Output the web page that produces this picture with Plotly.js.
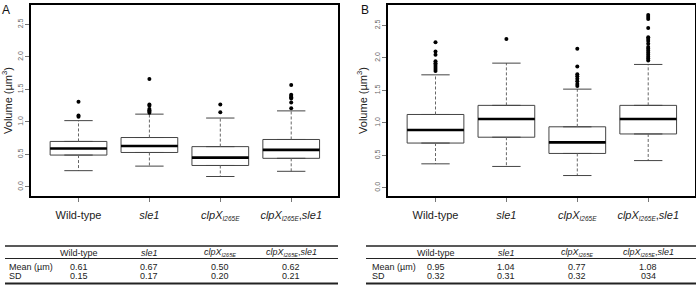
<!DOCTYPE html>
<html><head><meta charset="utf-8">
<script src="https://cdn.plot.ly/plotly-3.0.1.min.js"></script>
<style>html,body{margin:0;padding:0;background:#fff}#chart{width:696px;height:285px}</style>
</head><body><div id="chart"></div>
<script>
// ---------- data ----------
const categories = ["Wild-type", "sle1", "clpX_I265E", "clpX_I265E,sle1"];
const tickLabels = ["Wild-type", "<i>sle1</i>",
  "<i>clpX</i><sub><span style='font-size:6.5px'><i>I265E</i></span></sub>",
  "<i>clpX</i><sub><span style='font-size:6.5px'><i>I265E</i></span></sub>,<i>sle1</i>"];
const headerLabels = ["Wild-type", "<i>sle1</i>",
  "<i>clpX</i><sub><span style='font-size:5.5px'><i>I265E</i></span></sub>",
  "<i>clpX</i><sub><span style='font-size:5.5px'><i>I265E</i></span></sub>,<i>sle1</i>"];
const yTicks = [0, 0.5, 1, 1.5, 2, 2.5];
const yTickLabels = ["0.0", "0.5", "1.0", "1.5", "2.0", "2.5"];

// Panel A
const aQ1 = [0.49, 0.53, 0.33, 0.44];
const aMedian = [0.59, 0.63, 0.45, 0.57];
const aQ3 = [0.70, 0.76, 0.62, 0.73];
const aLower = [0.25, 0.32, 0.16, 0.24];
const aUpper = [1.02, 1.12, 1.06, 1.17];
const aOutWT = [1.08, 1.10, 1.31];
const aOutSle1 = [1.14, 1.16, 1.18, 1.20, 1.25, 1.27, 1.66];
const aOutClpX = [1.15, 1.27];
const aOutBoth = [1.21, 1.30, 1.36, 1.38, 1.40, 1.42, 1.57];
const aMean = ["0.61", "0.67", "0.50", "0.62"];
const aSD = ["0.15", "0.17", "0.20", "0.21"];

// Panel B
const bQ1 = [0.69, 0.78, 0.53, 0.83];
const bMedian = [0.89, 1.06, 0.70, 1.06];
const bQ3 = [1.13, 1.27, 0.94, 1.27];
const bLower = [0.37, 0.33, 0.19, 0.42];
const bUpper = [1.74, 1.92, 1.52, 1.90];
const bOutWT = [1.80, 1.83, 1.86, 1.89, 1.92, 1.95, 2.05, 2.10, 2.24];
const bOutSle1 = [2.29];
const bOutClpX = [1.57, 1.60, 1.64, 1.68, 1.72, 1.75, 1.87, 2.14];
const bOutBoth = [1.96, 1.99, 2.02, 2.05, 2.08, 2.11, 2.14, 2.17, 2.22, 2.26, 2.29, 2.32, 2.46, 2.60, 2.63, 2.66];
const bMean = ["0.95", "1.04", "0.77", "1.08"];
const bSD = ["0.32", "0.31", "0.32", "034"];

const rowLabels = ["Mean (µm)", "SD"];
const panelLabels = ["A", "B"];

// ---------- helpers ----------
const W = 696, H = 285;
const px = v => v / W;
const py = v => 1 - v / H;
const FONT = "Liberation Sans, Arial, sans-serif";
const pos = categories.map((c, i) => i);

function panelTraces(xa, ya, q1, med, q3, lo, hi, outs) {
  const traces = [];
  traces.push({
    type: "box", xaxis: xa, yaxis: ya, x: pos,
    q1: q1, median: med, q3: q3, lowerfence: q1, upperfence: q3,
    width: 0.8, fillcolor: "#ffffff",
    line: {color: "#444", width: 1}, hoverinfo: "skip", showlegend: false
  });
  const wx = [], wy = [], cx = [], cy = [], mx = [], my = [];
  pos.forEach(i => {
    wx.push(i, i, null, i, i, null);
    wy.push(q3[i], hi[i], null, q1[i], lo[i], null);
    cx.push(i - 0.2, i + 0.2, null, i - 0.2, i + 0.2, null);
    cy.push(hi[i], hi[i], null, lo[i], lo[i], null);
    mx.push(i - 0.4, i + 0.4, null);
    my.push(med[i], med[i], null);
  });
  traces.push({type: "scatter", mode: "lines", xaxis: xa, yaxis: ya, x: wx, y: wy,
    line: {color: "#666", width: 1, dash: "3px,2px"}, hoverinfo: "skip", showlegend: false});
  traces.push({type: "scatter", mode: "lines", xaxis: xa, yaxis: ya, x: cx, y: cy,
    line: {color: "#444", width: 1}, hoverinfo: "skip", showlegend: false});
  traces.push({type: "scatter", mode: "lines", xaxis: xa, yaxis: ya, x: mx, y: my,
    line: {color: "#000", width: 2.6}, hoverinfo: "skip", showlegend: false});
  const ox = [], oy = [];
  outs.forEach((arr, i) => arr.forEach(v => { ox.push(i); oy.push(v); }));
  traces.push({type: "scatter", mode: "markers", xaxis: xa, yaxis: ya, x: ox, y: oy,
    marker: {color: "#000", size: 4}, hoverinfo: "skip", showlegend: false});
  return traces;
}

const data = [
  ...panelTraces("x", "y", aQ1, aMedian, aQ3, aLower, aUpper, [aOutWT, aOutSle1, aOutClpX, aOutBoth]),
  ...panelTraces("x2", "y2", bQ1, bMedian, bQ3, bLower, bUpper, [bOutWT, bOutSle1, bOutClpX, bOutBoth])
];

function xAxis(domain) {
  return {
    domain: domain, range: [-0.67, 3.66], tickvals: pos, ticktext: tickLabels,
    ticks: "outside", ticklen: 4, tickcolor: "#777", tickwidth: 1,
    showline: true, mirror: true, linecolor: "#000", linewidth: 1.6,
    showgrid: false, zeroline: false, fixedrange: true,
    ticklabelstandoff: 4,
    tickfont: {family: FONT, size: 11, color: "#222"}
  };
}
function yAxis(range, anchor) {
  return {
    domain: [py(196), py(5)], range: range, anchor: anchor,
    tickvals: yTicks, ticktext: yTickLabels, tickangle: -90,
    ticks: "outside", ticklen: 4, tickcolor: "#777", tickwidth: 1,
    showline: true, mirror: true, linecolor: "#000", linewidth: 1.6,
    showgrid: false, zeroline: false, fixedrange: true,
    tickfont: {family: FONT, size: 7, color: "#666"},
    title: {text: "Volume (µm<sup>3</sup>)", font: {family: FONT, size: 11, color: "#222"}, standoff: 4}
  };
}

const annotations = [];
const shapes = [];
const tables = [
  {xref: "x", means: aMean, sds: aSD, x0: 5, x1: 338, labelX: 7},
  {xref: "x2", means: bMean, sds: bSD, x0: 366, x1: 696, labelX: 370}
];
const headerY = 252.5, rowYs = [266.5, 276];
tables.forEach((t, k) => {
  [[246, 1.6], [258.5, 1], [283.5, 2]].forEach(([yy, w]) => shapes.push({
    type: "line", xref: "paper", yref: "paper", x0: px(t.x0), x1: px(t.x1), y0: py(yy), y1: py(yy),
    line: {color: "#222", width: w}
  }));
  pos.forEach(i => {
    annotations.push({xref: t.xref, yref: "paper", x: i, y: py(headerY), text: headerLabels[i],
      showarrow: false, xanchor: "center", yanchor: "middle", font: {family: FONT, size: 9, color: "#222"}});
    annotations.push({xref: t.xref, yref: "paper", x: i, y: py(rowYs[0]), text: t.means[i],
      showarrow: false, xanchor: "center", yanchor: "middle", font: {family: FONT, size: 9, color: "#222"}});
    annotations.push({xref: t.xref, yref: "paper", x: i, y: py(rowYs[1]), text: t.sds[i],
      showarrow: false, xanchor: "center", yanchor: "middle", font: {family: FONT, size: 9, color: "#222"}});
  });
  rowLabels.forEach((lab, r) => annotations.push({xref: "paper", yref: "paper", x: px(t.labelX), y: py(rowYs[r]),
    text: lab, showarrow: false, xanchor: "left", yanchor: "middle", font: {family: FONT, size: 9, color: "#222"}}));
});
annotations.push({xref: "paper", yref: "paper", x: px(0), y: py(1), text: panelLabels[0], showarrow: false,
  xanchor: "left", yanchor: "top", font: {family: FONT, size: 12, color: "#111"}});
annotations.push({xref: "paper", yref: "paper", x: px(359), y: py(1), text: panelLabels[1], showarrow: false,
  xanchor: "left", yanchor: "top", font: {family: FONT, size: 12, color: "#111"}});

const layout = {
  width: W, height: H, margin: {l: 0, r: 0, t: 0, b: 0},
  paper_bgcolor: "#fff", plot_bgcolor: "#fff", showlegend: false,
  xaxis: xAxis([px(31), px(338)]),
  yaxis: yAxis([-0.14, 2.8], "x"),
  xaxis2: Object.assign(xAxis([px(388), px(695)]), {anchor: "y2"}),
  yaxis2: yAxis([-0.125, 2.815], "x2"),
  annotations: annotations, shapes: shapes
};
layout.xaxis.anchor = "y";

Plotly.newPlot("chart", data, layout, {staticPlot: true, displayModeBar: false});
</script></body></html>
